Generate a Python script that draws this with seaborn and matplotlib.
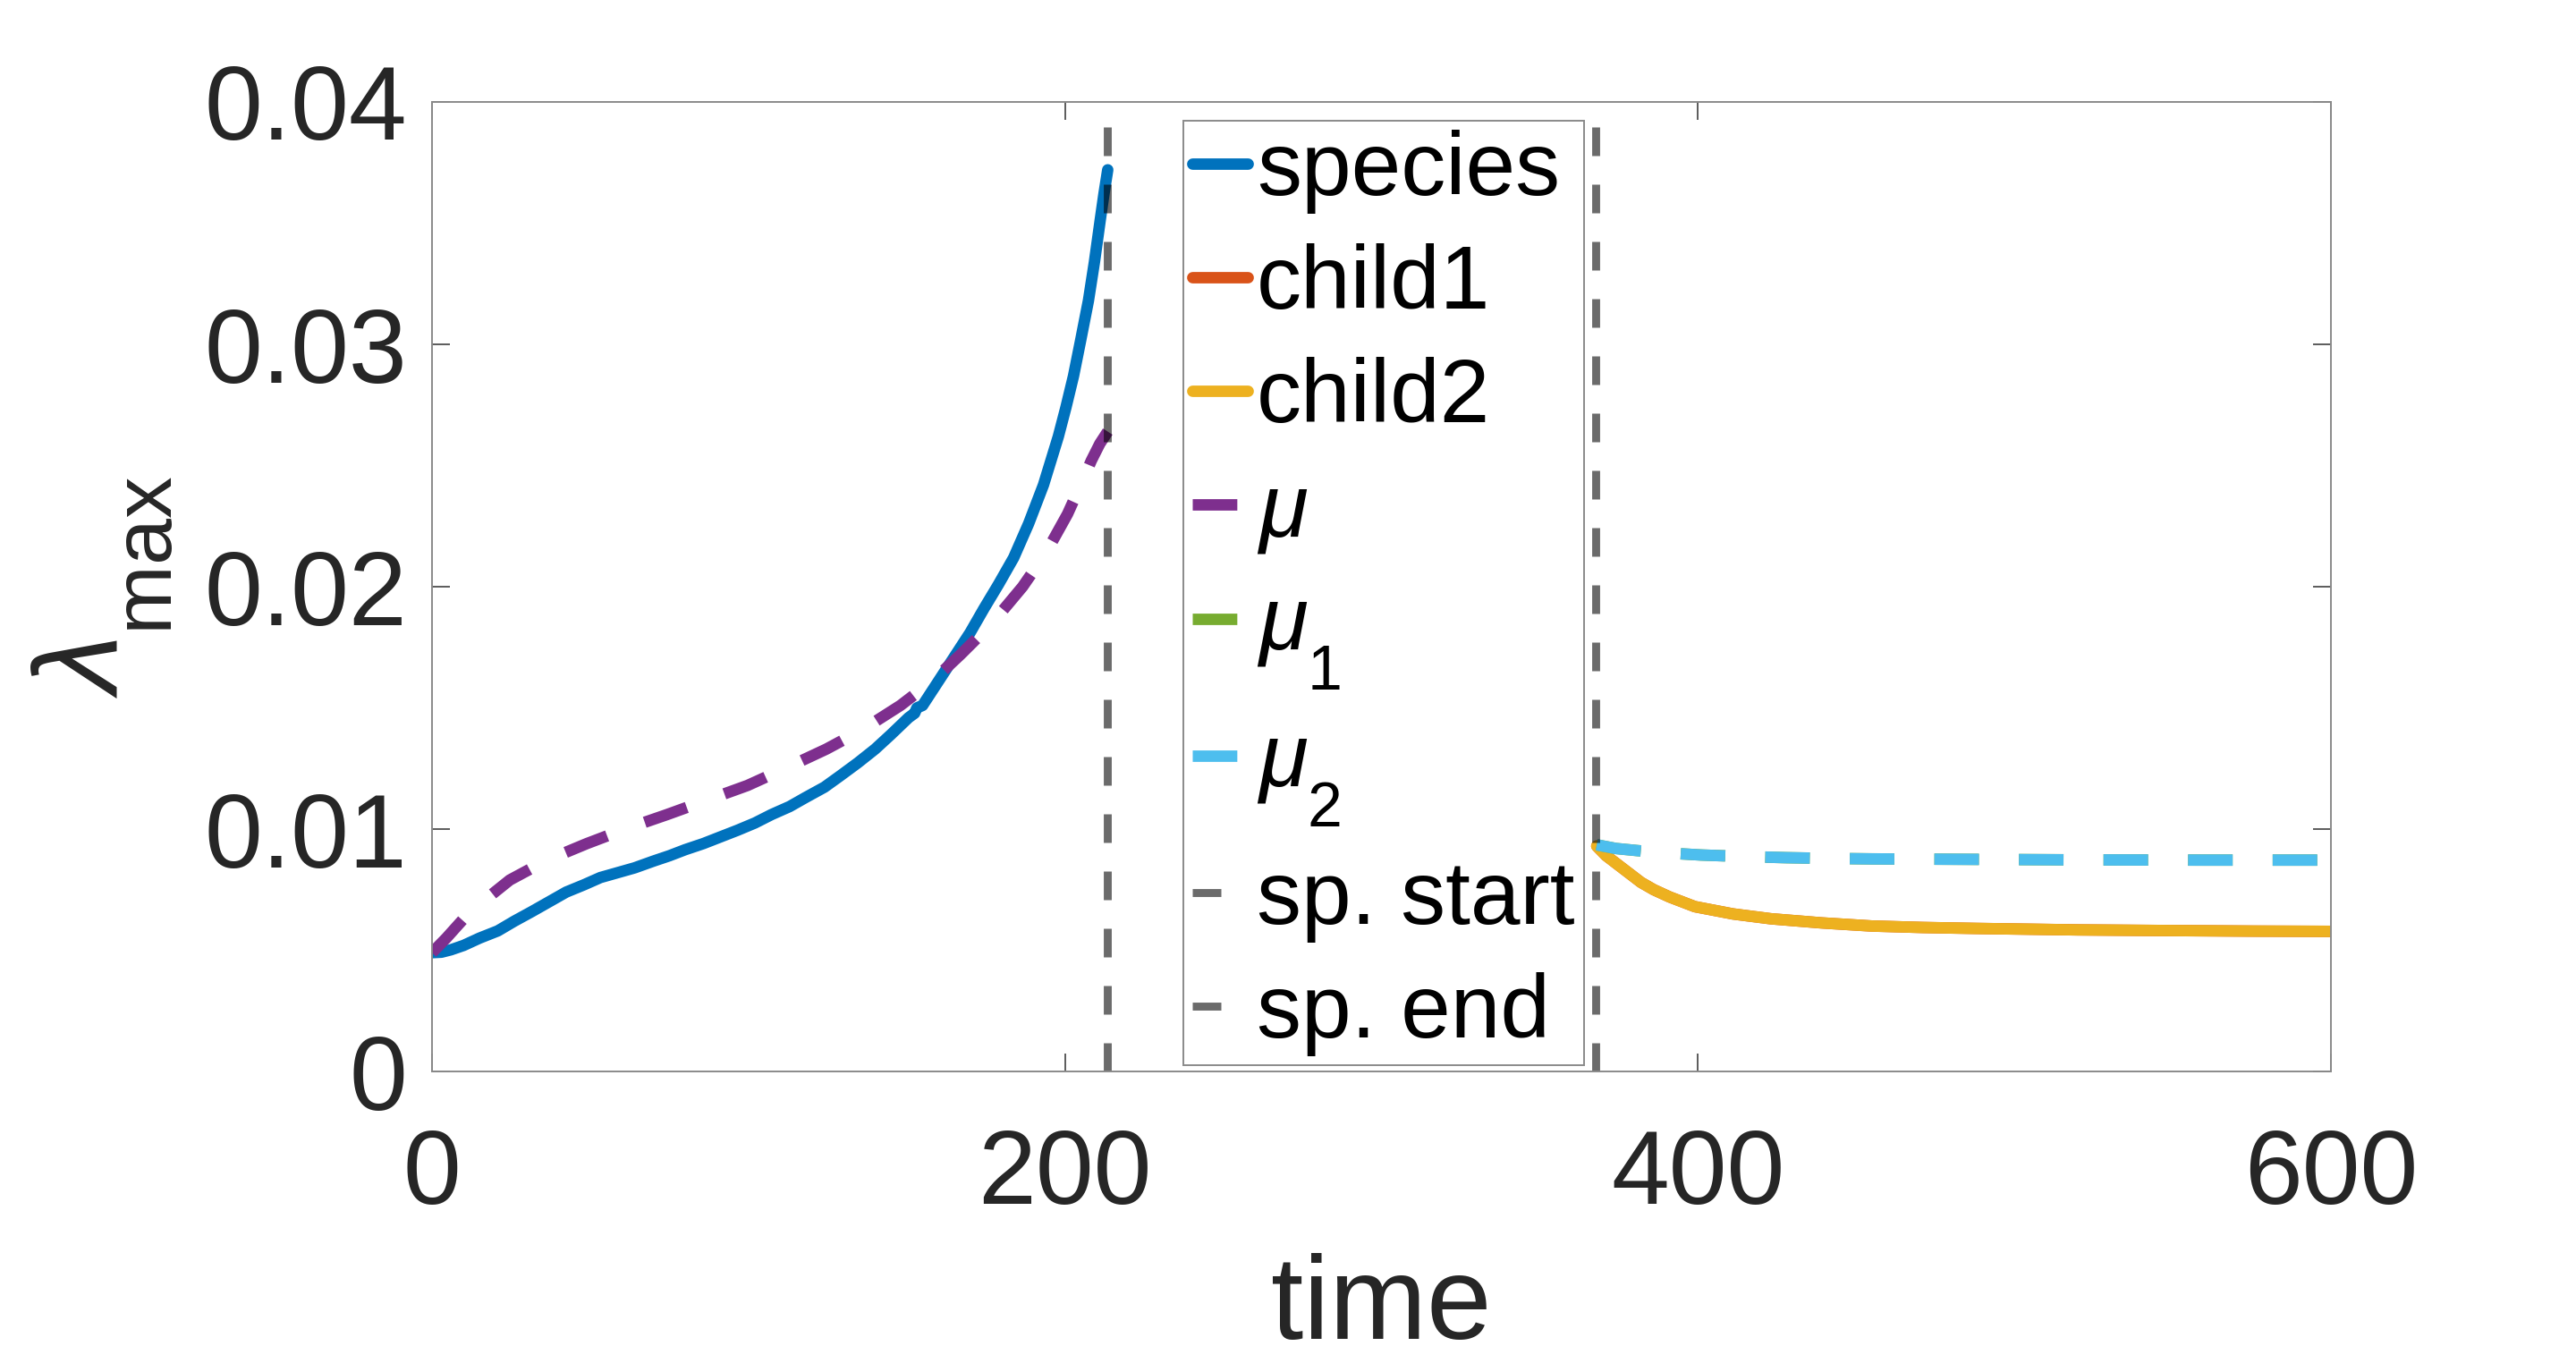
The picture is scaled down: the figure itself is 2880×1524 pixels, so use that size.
import numpy as np
import pandas as pd
import matplotlib
matplotlib.use("Agg")
import matplotlib.pyplot as plt
import seaborn as sns
from matplotlib.ticker import FixedLocator, FixedFormatter

# ---------------- data ----------------
species_t = [0, 3, 6, 10, 15, 20.8, 26, 31.6, 37, 42.4, 48, 53.2, 58.6, 64, 70, 75,
             80, 85.7, 91, 96.5, 102, 107.3, 113, 118, 124, 129, 134.5, 140, 145,
             150.6, 152.5, 153.2, 155, 160, 165, 170, 174.4, 179, 183.8, 188.5,
             193.2, 197.9, 200.3, 202.7, 205, 207.4, 209.3, 211.1, 212.3, 213.5]
species_val = [0.0049, 0.00492, 0.00502, 0.0052, 0.0055, 0.0058, 0.0062, 0.0066, 0.0070,
               0.0074, 0.0077, 0.0080, 0.0082, 0.0084, 0.00868, 0.0089, 0.00915, 0.0094,
               0.00967, 0.00995, 0.01025, 0.0106, 0.01093, 0.0113, 0.01173, 0.0122,
               0.01273, 0.0133, 0.0139, 0.0146, 0.01478, 0.0150, 0.0151, 0.0161, 0.0171,
               0.0181, 0.0191, 0.0201, 0.0212, 0.0226, 0.0242, 0.0262, 0.0274, 0.0287,
               0.0302, 0.0318, 0.0334, 0.0351, 0.0362, 0.0372]

mu_t = [0, 4.5, 10, 16, 24.6, 36, 48.9, 61, 74.3, 87, 99.7, 112, 124.6, 136, 148, 158,
        167, 177, 186.6, 194, 200.8, 206, 208.3, 211, 213.5]
mu_val = [0.0049, 0.0055, 0.0063, 0.0070, 0.0079, 0.0087, 0.0094, 0.0100, 0.0106, 0.0112,
          0.0118, 0.01253, 0.0133, 0.0141, 0.0151, 0.0161, 0.0172, 0.0185, 0.0200, 0.0214,
          0.0230, 0.0245, 0.0252, 0.0259, 0.0264]

child_t = [368, 371, 374, 378, 382, 386, 391, 399, 411, 423, 439, 455, 471, 488, 504,
           520, 552, 576, 600]
child1_val = [0.0093, 0.0089, 0.0086, 0.0082, 0.0078, 0.0075, 0.0072, 0.0068, 0.0065,
              0.0063, 0.00613, 0.0060, 0.00594, 0.0059, 0.00587, 0.00584, 0.00581,
              0.00579, 0.00578]
child2_val = [0.0093, 0.0089, 0.0086, 0.0082, 0.0078, 0.0075, 0.0072, 0.0068, 0.0065,
              0.0063, 0.00613, 0.0060, 0.00594, 0.0059, 0.00587, 0.00584, 0.00581,
              0.00579, 0.00578]

mu12_t = [368, 374, 381, 388, 401, 414, 428, 441, 455, 488, 520, 560, 600]
mu1_val = [0.00935, 0.0092, 0.00911, 0.00903, 0.00893, 0.00887, 0.00882, 0.00879,
           0.00877, 0.00875, 0.00873, 0.00872, 0.00872]
mu2_val = [0.00935, 0.0092, 0.00911, 0.00903, 0.00893, 0.00887, 0.00882, 0.00879,
           0.00877, 0.00875, 0.00873, 0.00872, 0.00872]

split_times = [213.3, 367.8]
split_labels = ["sp. start", "sp. end"]

series_labels = ["species", "child1", "child2", r"$\mu$", r"$\mu_1$", r"$\mu_2$"]
xticks = [0, 200, 400, 600]
xticklabels = ["0", "200", "400", "600"]
yticks = [0, 0.01, 0.02, 0.03, 0.04]
yticklabels = ["0", "0.01", "0.02", "0.03", "0.04"]
xlabel = "time"
ylabel = r"$\lambda_{\mathrm{max}}$"

# ---------------- style ----------------
sns.set_theme(style="white")
plt.rcParams["font.family"] = ["Liberation Sans", "DejaVu Sans"]
plt.rcParams["mathtext.fontset"] = "custom"
plt.rcParams["mathtext.rm"] = "Liberation Sans"
plt.rcParams["mathtext.it"] = "Liberation Sans:italic"
plt.rcParams["mathtext.sf"] = "Liberation Sans"

# lower subscripts (MATLAB tex-interpreter look)
try:
    import matplotlib._mathtext as _mt
    _mt.FontConstantsBase.sub1 = 0.85
    _mt.FontConstantsBase.script_space = 0.12
except Exception:
    pass

C_BLUE = "#0072BD"
C_RED = "#D95319"
C_YEL = "#EDB120"
C_PUR = "#7E2F8E"
C_GRN = "#77AC30"
C_CYA = "#4DBEEE"
TXT = "#262626"

LW = 4.6
dash_col = (0, (3.9, 3.5))

fig = plt.figure(figsize=(14.4, 7.62), dpi=200)
ax = fig.add_axes([0.1677, 0.2139, 0.7372, 0.7113])

def line(t, v, color, label, ls="-", lw=LW):
    df = pd.DataFrame({"t": t, "v": v})
    sns.lineplot(data=df, x="t", y="v", ax=ax, color=color, lw=lw, linestyle=ls,
                 sort=False, estimator=None, label=label, legend=False)

line(species_t, species_val, C_BLUE, series_labels[0])
line(child_t, child1_val, C_RED, series_labels[1])
line(child_t, child2_val, C_YEL, series_labels[2])
line(mu_t, mu_val, C_PUR, series_labels[3], ls=dash_col)
line(mu12_t, mu1_val, C_GRN, series_labels[4], ls=dash_col)
line(mu12_t, mu2_val, C_CYA, series_labels[5], ls=dash_col)

for xt, lab in zip(split_times, split_labels):
    ax.axvline(xt, color="black", alpha=0.58, lw=3.2, linestyle=(0, (3.6, 3.6)), label=lab)

ax.set_xlim(0, 600)
ax.set_ylim(0, 0.04)
ax.xaxis.set_major_locator(FixedLocator(xticks))
ax.xaxis.set_major_formatter(FixedFormatter(xticklabels))
ax.yaxis.set_major_locator(FixedLocator(yticks))
ax.yaxis.set_major_formatter(FixedFormatter(yticklabels))

ax.tick_params(axis="both", which="major", direction="in", length=7.2, width=0.6,
               colors="#404040", labelcolor=TXT, labelsize=42,
               top=True, right=True, bottom=True, left=True)
ax.tick_params(axis="x", pad=22.5)
ax.tick_params(axis="y", pad=10)
for sp in ax.spines.values():
    sp.set_visible(True)
    sp.set_color("#8a8a8a")
    sp.set_linewidth(0.7)

ax.set_xlabel(xlabel, fontsize=47, color=TXT)
ax.set_ylabel(ylabel, fontsize=48, color=TXT)
ax.xaxis.set_label_coords(0.5, -0.187)
ax.yaxis.set_label_coords(-0.135, 0.5)

handles = [h for h in ax.get_lines() if not h.get_label().startswith("_")]
leg = ax.legend(handles=handles, labels=[h.get_label() for h in handles],
                loc="upper left", bbox_to_anchor=(0.3957, 0.9806), borderaxespad=0,
                fontsize=36, handlelength=0.62, handletextpad=0.1, borderpad=0.1,
                labelspacing=0.33, frameon=True, fancybox=False, framealpha=1,
                facecolor="white", edgecolor="#8a8a8a")
leg.get_frame().set_linewidth(0.7)
for txt in leg.get_texts():
    txt.set_color("black")

fig.savefig("out.png", dpi=200, facecolor="white")
